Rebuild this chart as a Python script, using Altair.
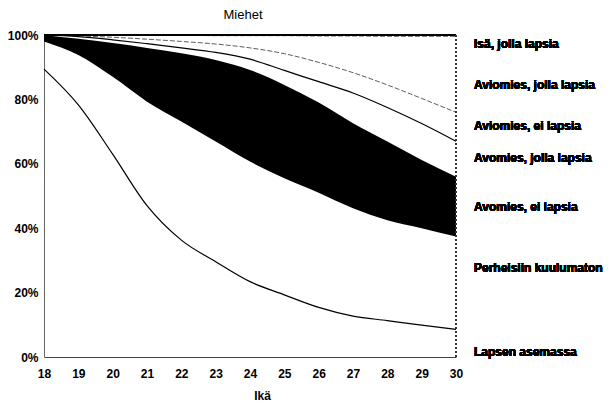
import altair as alt
import pandas as pd

AGES = list(range(18, 31))
# upper edge (cumulative %) of each group
LAPSEN_TOP = [89.4, 78.3, 63.0, 47.0, 36.3, 29.6, 23.4, 19.3, 15.4, 12.7, 11.3, 9.9, 8.6]
PERHE_TOP = [98.0, 93.8, 87.0, 79.3, 73.1, 66.9, 60.7, 55.5, 51.0, 46.2, 42.5, 40.0, 37.4]
AVO_EI_TOP = [100.0, 98.8, 97.5, 96.0, 94.3, 92.2, 89.1, 84.5, 79.0, 72.6, 66.9, 61.2, 56.0]
AVO_JOLLA_TOP = [100.0, 99.5, 98.5, 97.3, 96.0, 94.6, 92.5, 89.0, 85.5, 82.0, 77.5, 72.5, 67.0]
AVIO_EI_TOP = [100.0, 99.7, 99.3, 98.7, 98.0, 97.2, 96.0, 94.2, 91.5, 88.3, 84.5, 80.3, 76.0]
AVIO_JOLLA_TOP = [100.0, 100.0, 100.0, 99.9, 99.9, 99.8, 99.8, 99.8, 99.7, 99.7, 99.6, 99.6, 99.6]

LABELS = ["Isä, jolla lapsia", "Aviomies, jolla lapsia", "Aviomies, ei lapsia",
          "Avomies, jolla lapsia", "Avomies, ei lapsia", "Perheisiin kuulumaton",
          "Lapsen asemassa"]
Y_TICKS = [0, 20, 40, 60, 80, 100]
TITLE = "Miehet"
X_TITLE = "Ikä"

# layout (pixels inside plot area)
LABEL_PX = [9, 50, 91, 123, 172, 233, 317]
W, H = 412, 322
FONT = "Liberation Sans"

wide = pd.DataFrame({
    "age": AGES, "lapsen": LAPSEN_TOP, "perhe": PERHE_TOP, "avo_ei": AVO_EI_TOP,
    "avo_jolla": AVO_JOLLA_TOP, "avio_ei": AVIO_EI_TOP, "avio_jolla": AVIO_JOLLA_TOP,
})
long = wide.melt(id_vars="age", var_name="edge", value_name="val")

xs = alt.Scale(domain=[18, 30], nice=False, zero=False)
ys = alt.Scale(domain=[0, 100], nice=False)
xaxis = alt.Axis(values=AGES, title=X_TITLE, grid=False, ticks=False, labelPadding=11,
                 labelFlush=False, domainColor="#444", domainWidth=1, titleX=218,
                 titlePadding=11)
yaxis = alt.Axis(values=Y_TICKS, labelExpr="datum.value + '%'", title=None, grid=False,
                 ticks=False, labelPadding=6, labelFlush=False, domainColor="#666",
                 domainWidth=1)

area = alt.Chart(wide).mark_area(color="black", opacity=1, interpolate="monotone").encode(
    x=alt.X("age:Q", scale=xs, axis=xaxis, title=X_TITLE),
    y=alt.Y("avo_ei:Q", scale=ys, axis=yaxis, title=None),
    y2="perhe:Q",
)

solid = alt.Chart(long).transform_filter(
    alt.FieldOneOfPredicate(field="edge", oneOf=["lapsen", "avo_jolla"])
).mark_line(color="black", strokeWidth=1.2, interpolate="monotone").encode(
    x=alt.X("age:Q", scale=xs, axis=xaxis, title=X_TITLE),
    y=alt.Y("val:Q", scale=ys, axis=yaxis, title=None),
    detail="edge:N",
)

dashed = alt.Chart(long).transform_filter(
    alt.FieldOneOfPredicate(field="edge", oneOf=["avio_ei", "avio_jolla"])
).mark_line(color="#333", strokeWidth=0.8, strokeDash=[5, 2], interpolate="monotone").encode(
    x=alt.X("age:Q", scale=xs, axis=xaxis, title=X_TITLE),
    y=alt.Y("val:Q", scale=ys, axis=yaxis, title=None),
    detail="edge:N",
)

top_rule = alt.Chart(wide).mark_rule(color="black", strokeWidth=2).encode(
    x=alt.value(0), x2=alt.value(W), y=alt.value(0))
right_rule = alt.Chart(wide).mark_rule(color="#333", strokeWidth=1, strokeDash=[2, 2]).encode(
    x=alt.value(W), y=alt.value(0), y2=alt.value(H))

texts = []
for lab, py in zip(LABELS, LABEL_PX):
    texts.append(alt.Chart(wide).mark_text(
        text=lab, align="left", baseline="middle", font=FONT, fontSize=12,
        fontWeight="bold", color="black").encode(x=alt.value(W + 18), y=alt.value(py)))

chart = alt.layer(area, solid, dashed, top_rule, right_rule, *texts).properties(
    width=W, height=H,
    title=alt.Title(TITLE, font=FONT, fontSize=13, fontWeight="normal", anchor="middle",
                    dx=-7, offset=7, color="black"),
    autosize=alt.AutoSizeParams(type="none"),
    padding={"left": 36, "top": 27, "right": 151, "bottom": 50},
).configure_view(stroke=None).configure_axis(
    labelFont=FONT, labelFontSize=12, labelFontWeight="bold", labelColor="black",
    titleFont=FONT, titleFontSize=12, titleFontWeight="bold", titleColor="black",
)

chart.save("out.html", embed_options={"renderer": "svg", "actions": False})
